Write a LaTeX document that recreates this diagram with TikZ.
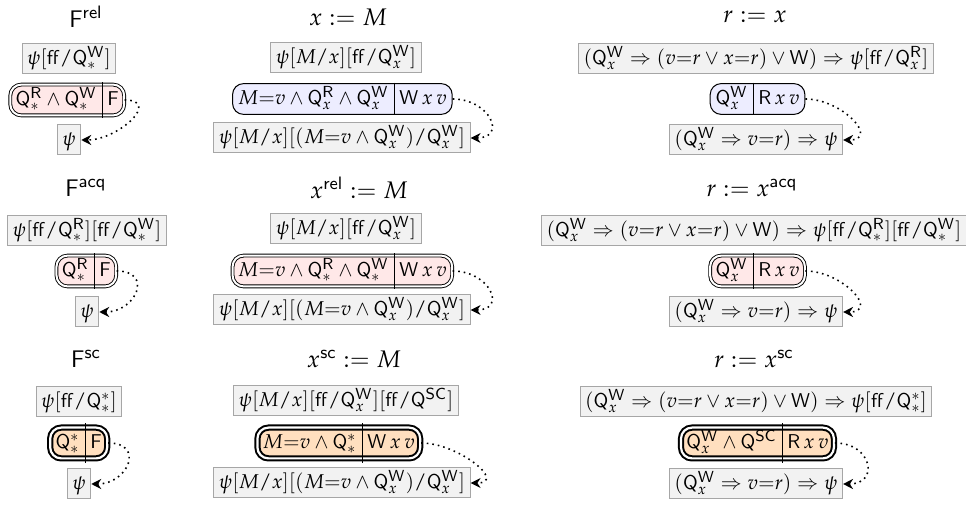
\documentclass[tikz,border=0pt]{standalone}
\usepackage{mathpazo}
\usetikzlibrary{arrows.meta,fit,backgrounds}
\newcommand\sQ[2]{\mathsf{Q}^{\mathsf{#1}}_{#2}}
\newcommand\fft{\mathsf{ff}}
\newcommand\sbs[2]{[#1/#2]}
\newcommand\tl{{\ast}}
\newcommand\splitnode[7]{%
  \node[part, anchor=east] (#1L) at (#3,#4) {$#5$};
  \node[part, anchor=west] (#1R) at (#3,#4) {$#6$};
  \begin{scope}[on background layer]
    \node[fit=(#1L)(#1R), inner sep=0pt, #2] (#1) {};
  \end{scope}
  \draw[divider, shorten <=-#7, shorten >=-#7] (#1L.east |- #1.north) -- (#1L.east |- #1.south);
}
\tikzset{
  box/.style={draw=gray!70, fill=gray!10, line width=0.5pt, inner xsep=2.5pt, inner ysep=1.9pt, text height=8.3pt, text depth=2.9pt},
  part/.style={inner xsep=2.5pt, inner ysep=1.9pt, text height=8.3pt, text depth=2.9pt},
  title/.style={font=\large},
  plainsp/.style={draw=black, fill=blue!7, rounded corners=5.5pt, line width=0.5pt},
  relsp/.style={draw=black, fill=red!9, rounded corners=5.5pt, double, double distance=1pt, line width=0.45pt},
  scsp/.style={draw=black, fill=orange!25, rounded corners=5.5pt, double, double distance=1.1pt, line width=1pt},
  divider/.style={line width=0.5pt},
  flow/.style={dotted, thick, -{Stealth[length=5pt,width=5pt]}}
}
\begin{document}
\begin{tikzpicture}[x=0.5pt,y=-0.5pt]
\useasboundingbox (0,0) rectangle (966,508);
% ---------- row 1
\node[title] (t11) at (86,17) {$\mathsf{F}^{\mathsf{rel}}$};
\node[title] (t12) at (348,17) {$x := M$};
\node[title] (t13) at (755,17) {$r := x$};
\node[box] (a11) at (69,59) {$\psi\sbs{\fft}{\sQ{W}{\tl}}$};
\node[box] (a12) at (346,58) {$\psi[M/x]\sbs{\fft}{\sQ{W}{x}}$};
\node[box] (a13) at (756,59) {$(\sQ{W}{x} \Rightarrow (v{=}r \vee x{=}r) \vee \mathsf{W}) \Rightarrow \psi\sbs{\fft}{\sQ{R}{x}}$};
\splitnode{m11}{relsp}{102}{100}{\sQ{R}{\tl} \wedge \sQ{W}{\tl}}{\mathsf{F}}{0.9pt}
\splitnode{m12}{plainsp}{394}{99}{M{=}v \wedge \sQ{R}{x} \wedge \sQ{W}{x}}{\mathsf{W}\,x\,v}{0.25pt}
\splitnode{m13}{plainsp}{753}{99}{\sQ{W}{x}}{\mathsf{R}\,x\,v}{0.25pt}
\node[box] (b11) at (69,140) {$\psi$};
\node[box] (b12) at (342,138) {$\psi[M/x][(M{=}v \wedge \sQ{W}{x})/\sQ{W}{x}]$};
\node[box] (b13) at (756,140) {$(\sQ{W}{x} \Rightarrow v{=}r) \Rightarrow \psi$};
\draw[flow] (m11.east) .. controls +(37,0) and +(37,0) .. (b11.east);
\draw[flow] (m12.east) .. controls +(37,0) and +(37,0) .. (b12.east);
\draw[flow] (m13.east) .. controls +(37,0) and +(37,0) .. (b13.east);
% ---------- row 2
\node[title] (t21) at (86,188) {$\mathsf{F}^{\mathsf{acq}}$};
\node[title] (t22) at (359,188) {$x^{\mathsf{rel}} := M$};
\node[title] (t23) at (752,188) {$r := x^{\mathsf{acq}}$};
\node[box] (a21) at (87,231) {$\psi\sbs{\fft}{\sQ{R}{\tl}}\sbs{\fft}{\sQ{W}{\tl}}$};
\node[box] (a22) at (346,229) {$\psi[M/x]\sbs{\fft}{\sQ{W}{x}}$};
\node[box] (a23) at (754,231) {$(\sQ{W}{x} \Rightarrow (v{=}r \vee x{=}r) \vee \mathsf{W}) \Rightarrow \psi\sbs{\fft}{\sQ{R}{\tl}}\sbs{\fft}{\sQ{W}{\tl}}$};
\splitnode{m21}{relsp}{94}{271}{\sQ{R}{\tl}}{\mathsf{F}}{0.9pt}
\splitnode{m22}{relsp}{394}{271}{M{=}v \wedge \sQ{R}{\tl} \wedge \sQ{W}{\tl}}{\mathsf{W}\,x\,v}{0.9pt}
\splitnode{m23}{relsp}{753}{271}{\sQ{W}{x}}{\mathsf{R}\,x\,v}{0.9pt}
\node[box] (b21) at (87,312) {$\psi$};
\node[box] (b22) at (342,310) {$\psi[M/x][(M{=}v \wedge \sQ{W}{x})/\sQ{W}{x}]$};
\node[box] (b23) at (756,312) {$(\sQ{W}{x} \Rightarrow v{=}r) \Rightarrow \psi$};
\draw[flow] (m21.east) .. controls +(37,0) and +(37,0) .. (b21.east);
\draw[flow] (m22.east) .. controls +(37,0) and +(37,0) .. (b22.east);
\draw[flow] (m23.east) .. controls +(37,0) and +(37,0) .. (b23.east);
% ---------- row 3
\node[title] (t31) at (86,359) {$\mathsf{F}^{\mathsf{sc}}$};
\node[title] (t32) at (354,359) {$x^{\mathsf{sc}} := M$};
\node[title] (t33) at (754,359) {$r := x^{\mathsf{sc}}$};
\node[box] (a31) at (79,402) {$\psi\sbs{\fft}{\mathsf{Q}^{\ast}_{\tl}}$};
\node[box] (a32) at (346,401) {$\psi[M/x]\sbs{\fft}{\sQ{W}{x}}\sbs{\fft}{\mathsf{Q}^{\mathsf{SC}}}$};
\node[box] (a33) at (756,402) {$(\sQ{W}{x} \Rightarrow (v{=}r \vee x{=}r) \vee \mathsf{W}) \Rightarrow \psi\sbs{\fft}{\mathsf{Q}^{\ast}_{\tl}}$};
\splitnode{m31}{scsp}{85}{443}{\mathsf{Q}^{\ast}_{\tl}}{\mathsf{F}}{1.6pt}
\splitnode{m32}{scsp}{362}{443}{M{=}v \wedge \mathsf{Q}^{\ast}_{\tl}}{\mathsf{W}\,x\,v}{1.6pt}
\splitnode{m33}{scsp}{782}{443}{\sQ{W}{x} \wedge \mathsf{Q}^{\mathsf{SC}}}{\mathsf{R}\,x\,v}{1.6pt}
\node[box] (b31) at (79,484) {$\psi$};
\node[box] (b32) at (342,483) {$\psi[M/x][(M{=}v \wedge \sQ{W}{x})/\sQ{W}{x}]$};
\node[box] (b33) at (756,484) {$(\sQ{W}{x} \Rightarrow v{=}r) \Rightarrow \psi$};
\draw[flow] (m31.east) .. controls +(37,0) and +(37,0) .. (b31.east);
\draw[flow] (m32.east) .. controls +(37,0) and +(37,0) .. (b32.east);
\draw[flow] (m33.east) .. controls +(37,0) and +(37,0) .. (b33.east);
\end{tikzpicture}
\end{document}
